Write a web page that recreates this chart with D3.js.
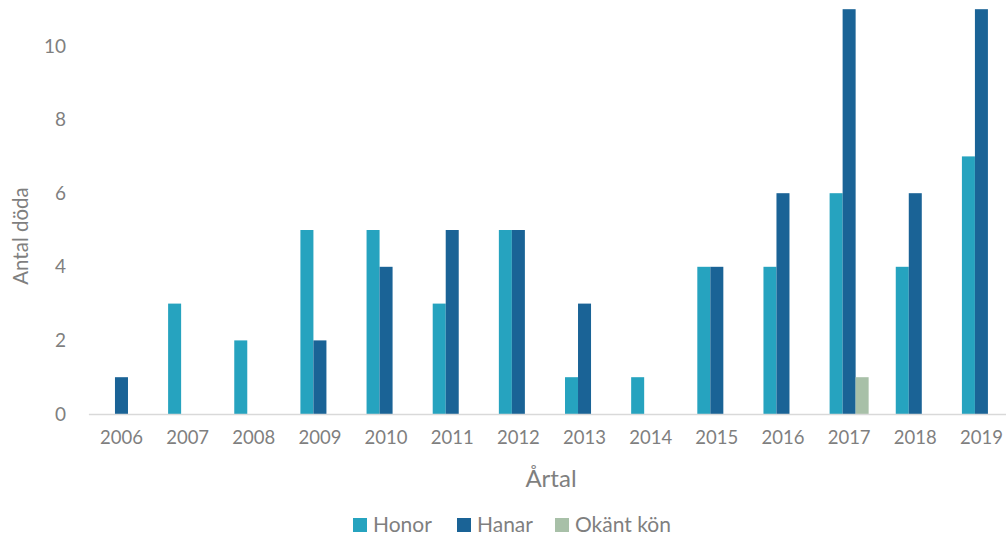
<!DOCTYPE html>
<html><head><meta charset="utf-8">
<script src="https://cdn.jsdelivr.net/npm/d3@7"></script>
<style>body{margin:0;background:#fff}svg{display:block}</style>
</head><body>
<script>
const years = ["2006","2007","2008","2009","2010","2011","2012","2013","2014","2015","2016","2017","2018","2019"];
const seriesNames = ["Honor","Hanar","Okänt kön"];
const honor = [0,3,2,5,5,3,5,1,1,4,4,6,4,7];
const hanar = [1,0,0,2,4,5,5,3,0,4,6,11,6,11];
const okant = [0,0,0,0,0,0,0,0,0,0,0,1,0,0];
const yTicks = [0,2,4,6,8,10];
const colors = ["#26a3bf","#1a6396","#a8c0a8"];

const W=1006,H=540;
const font = "Lato, 'Open Sans', sans-serif";
const svg = d3.select("body").append("svg").attr("width",W).attr("height",H);
const x = d3.scaleBand().domain(years).range([88.4,1014.5]).paddingInner(0.41).paddingOuter(0.205);
const y = d3.scaleLinear().domain([0,11]).range([414,9.2]);
const xs = d3.scaleBand().domain(seriesNames).range([0,x.bandwidth()]);
const data = [honor,hanar,okant];

const g = svg.append("g");
seriesNames.forEach((s,si)=>{
  g.selectAll(null).data(years.map((yr,i)=>({yr,v:data[si][i]})).filter(d=>d.v>0))
   .enter().append("rect")
   .attr("x",d=>x(d.yr)+xs(s)).attr("width",xs.bandwidth())
   .attr("y",d=>y(d.v)).attr("height",d=>y(0)-y(d.v))
   .attr("fill",colors[si]);
});

// x axis
const xa = svg.append("g").attr("transform","translate(0,414)")
  .call(d3.axisBottom(x).tickSize(0).tickPadding(17));
xa.select(".domain").attr("stroke","#d9d9d9").attr("stroke-width",1.5);
xa.selectAll("text").attr("font-family",font).attr("font-size",18.5).attr("fill","#7f7f7f");

// y axis
const ya = svg.append("g").attr("transform","translate(88,0)")
  .call(d3.axisLeft(y).tickValues(yTicks).tickSize(0).tickPadding(22));
ya.select(".domain").remove();
ya.selectAll("text").attr("font-family",font).attr("font-size",19).attr("fill","#7f7f7f");

svg.append("text").attr("transform","translate(28,236) rotate(-90)")
  .attr("text-anchor","middle").attr("font-family",font).attr("font-size",20.5)
  .attr("fill","#7f7f7f").text("Antal döda");

svg.append("text").attr("x",551).attr("y",487).attr("text-anchor","middle")
  .attr("font-family",font).attr("font-size",24).attr("fill","#7f7f7f").text("Årtal");

// legend
const legX = [353,457,555];
seriesNames.forEach((s,i)=>{
  svg.append("rect").attr("x",legX[i]).attr("y",518).attr("width",14).attr("height",14).attr("fill",colors[i]);
  svg.append("text").attr("x",legX[i]+20).attr("y",532).attr("font-family",font).attr("font-size",21)
    .attr("fill","#7f7f7f").text(s);
});
</script>
</body></html>
